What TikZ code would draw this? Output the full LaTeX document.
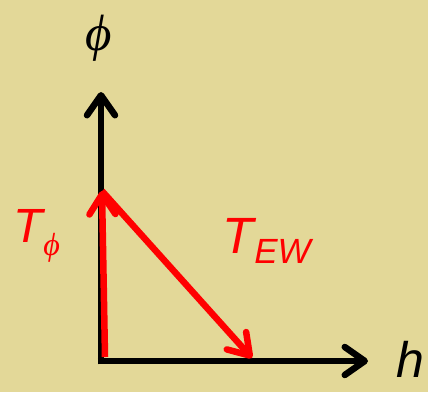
\documentclass[tikz,border=0pt]{standalone}
\usepackage{fontspec}
\setmainfont{Liberation Sans}
\newfontfamily\phifont{Liberation Serif}
\usetikzlibrary{arrows.meta}
\definecolor{bg}{RGB}{227,216,152}
\definecolor{vred}{RGB}{255,0,0}
\tikzset{
  axis/.style={line width=6.5pt, black, -{Straight Barb[length=20pt,width=28pt,round]}},
  vec/.style={line width=6.5pt, vred, -{Straight Barb[length=20pt,width=26pt,round]}},
  lbl/.style={inner sep=0pt, anchor=base west}
}
\begin{document}
\begin{tikzpicture}[x=1pt,y=-1pt]
\fill[bg] (0,0) rectangle (428,392);
\useasboundingbox (0,0) rectangle (428,392);
\coordinate (Ostart) at (101,364.25);
\coordinate (Hstart) at (97.75,361);
\coordinate (Ytip) at (101,92);
\coordinate (Xtip) at (368,361);
\coordinate (R0) at (105,357);
\coordinate (A) at (102,191);
\coordinate (B) at (252,358);
\draw[axis] (Ostart) -- (Ytip);
\draw[axis] (Hstart) -- (Xtip);
\draw[vec] (R0) -- (A);
\draw[vec] (A) -- (B);
\node[inner sep=0pt, anchor=base] (phi) at (99,50) {\fontsize{51}{51}\phifont\itshape ϕ};
\node[lbl] (h) at (396,377) {\fontsize{50}{50}\selectfont\textit{h}};
\node[lbl, text=vred] (Tphi) at (13,242) {\fontsize{48}{48}\selectfont\textit{T}\kern-2pt\raisebox{-13pt}{\fontsize{32}{32}\phifont\itshape ϕ}};
\node[lbl, text=vred] (Tew) at (222,253) {\fontsize{51}{51}\selectfont\textit{T}\kern-2pt\raisebox{-10pt}{\fontsize{35}{35}\selectfont\textit{EW}}};
\end{tikzpicture}
\end{document}
